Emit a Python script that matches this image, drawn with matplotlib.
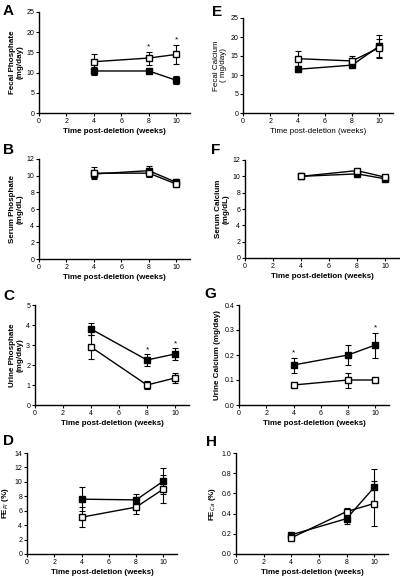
import matplotlib
matplotlib.use("Agg")
import matplotlib.pyplot as plt

plt.rcParams["font.family"] = ["Liberation Sans", "DejaVu Sans"]

weeks = [4, 8, 10]
x_ticks = [0, 2, 4, 6, 8, 10]

fecal_p_filled = [10.4, 10.4, 8.1]
fecal_p_filled_err = [1.0, 0.5, 1.0]
fecal_p_open = [12.7, 13.6, 14.5]
fecal_p_open_err = [1.8, 1.6, 2.4]

serum_p_filled = [10.2, 10.6, 9.2]
serum_p_filled_err = [0.5, 0.6, 0.4]
serum_p_open = [10.3, 10.3, 9.0]
serum_p_open_err = [0.7, 0.5, 0.4]

urine_p_filled = [3.8, 2.25, 2.55]
urine_p_filled_err = [0.3, 0.3, 0.3]
urine_p_open = [2.9, 1.0, 1.35]
urine_p_open_err = [0.6, 0.2, 0.25]

fe_pi_filled = [7.6, 7.5, 10.1]
fe_pi_filled_err = [1.7, 0.8, 1.8]
fe_pi_open = [5.1, 6.5, 9.0]
fe_pi_open_err = [1.4, 1.0, 1.9]

fecal_ca_filled = [11.5, 12.6, 17.6]
fecal_ca_filled_err = [0.8, 0.4, 3.0]
fecal_ca_open = [14.3, 13.7, 17.2]
fecal_ca_open_err = [2.0, 1.4, 2.4]

serum_ca_filled = [10.0, 10.3, 9.7]
serum_ca_filled_err = [0.2, 0.2, 0.2]
serum_ca_open = [10.0, 10.7, 9.9]
serum_ca_open_err = [0.2, 0.2, 0.2]

urine_ca_filled = [0.16, 0.20, 0.24]
urine_ca_filled_err = [0.03, 0.04, 0.05]
urine_ca_open = [0.08, 0.10, 0.10]
urine_ca_open_err = [0.005, 0.03, 0.005]

fe_ca_filled = [0.19, 0.35, 0.66]
fe_ca_filled_err = [0.02, 0.05, 0.18]
fe_ca_open = [0.16, 0.42, 0.50]
fe_ca_open_err = [0.02, 0.04, 0.22]

W, H = 400, 581
fig = plt.figure(figsize=(4, 5.81), dpi=100)


def add_panel(px, letter, letter_xy, ylabel, ylim, yticks, yfmt, filled, filled_err,
              opn, opn_err, stars, label_bold=True):
    x0, ytop, x1, ybot = px
    ax = fig.add_axes([x0 / W, 1 - ybot / H, (x1 - x0) / W, (ybot - ytop) / H])
    ax.errorbar(weeks, filled, yerr=filled_err, color="black", marker="s",
                markersize=4.5, markerfacecolor="black", lw=1.0,
                capsize=2.2, elinewidth=0.8, capthick=0.8, zorder=3)
    ax.errorbar(weeks, opn, yerr=opn_err, color="black", marker="s",
                markersize=4.5, markerfacecolor="white", lw=1.0,
                capsize=2.2, elinewidth=0.8, capthick=0.8, zorder=4)
    ax.set_xlim(0, 11)
    ax.set_ylim(*ylim)
    ax.set_xticks(x_ticks)
    ax.set_yticks(yticks)
    ax.set_yticklabels([yfmt.format(v) for v in yticks])
    for s in ["top", "right"]:
        ax.spines[s].set_visible(False)
    for s in ["left", "bottom"]:
        ax.spines[s].set_linewidth(1.0)
    ax.tick_params(direction="out", length=2.5, width=0.8, labelsize=5, pad=1)
    fw = "bold" if label_bold else "normal"
    ax.set_xlabel("Time post-deletion (weeks)", fontsize=5.8, fontweight=fw, labelpad=2)
    ax.set_ylabel(ylabel, fontsize=5.8, fontweight=fw, labelpad=2, linespacing=1.0)
    for (sx, sy) in stars:
        ax.text(sx, sy, "*", ha="center", va="center", fontsize=6)
    fig.text(letter_xy[0] / W, 1 - letter_xy[1] / H, letter, fontsize=11,
             fontweight="bold", ha="left", va="top")
    return ax


add_panel((39, 12, 190, 113), "A", (3, 4), "Fecal Phosphate\n(mg/day)", (0, 25),
          [0, 5, 10, 15, 20, 25], "{:g}", fecal_p_filled, fecal_p_filled_err,
          fecal_p_open, fecal_p_open_err, [(8, 16.3), (10, 18.0)])
add_panel((39, 159, 190, 259), "B", (3, 143), "Serum Phosphate\n(mg/dL)", (0, 12),
          [0, 2, 4, 6, 8, 10, 12], "{:g}", serum_p_filled, serum_p_filled_err,
          serum_p_open, serum_p_open_err, [])
add_panel((35, 305, 189, 405), "C", (3, 289), "Urine Phosphate\n(mg/day)", (0, 5),
          [0, 1, 2, 3, 4, 5], "{:g}", urine_p_filled, urine_p_filled_err,
          urine_p_open, urine_p_open_err, [(8, 2.75), (10, 3.05)])
add_panel((27, 453, 177, 554), "D", (3, 434), "FE$_{Pi}$ (%)", (0, 14),
          [0, 2, 4, 6, 8, 10, 12, 14], "{:g}", fe_pi_filled, fe_pi_filled_err,
          fe_pi_open, fe_pi_open_err, [])

add_panel((243, 18, 393, 113), "E", (212, 5), "Fecal Calcium\n( mg/day)", (0, 25),
          [0, 5, 10, 15, 20, 25], "{:g}", fecal_ca_filled, fecal_ca_filled_err,
          fecal_ca_open, fecal_ca_open_err, [], label_bold=False)
add_panel((245, 160, 399, 258), "F", (211, 143), "Serum Calcium\n(mg/dL)", (0, 12),
          [0, 2, 4, 6, 8, 10, 12], "{:g}", serum_ca_filled, serum_ca_filled_err,
          serum_ca_open, serum_ca_open_err, [])
add_panel((239, 305, 389, 405), "G", (204, 287), "Urine Calcium (mg/day)", (0, 0.4),
          [0.0, 0.1, 0.2, 0.3, 0.4], "{:.1f}", urine_ca_filled, urine_ca_filled_err,
          urine_ca_open, urine_ca_open_err, [(4, 0.21), (10, 0.31)])
add_panel((236, 453, 388, 554), "H", (206, 435), "FE$_{Ca}$ (%)", (0, 1.0),
          [0.0, 0.2, 0.4, 0.6, 0.8, 1.0], "{:.1f}", fe_ca_filled, fe_ca_filled_err,
          fe_ca_open, fe_ca_open_err, [])

fig.savefig("out.png", dpi=100, facecolor="white")
